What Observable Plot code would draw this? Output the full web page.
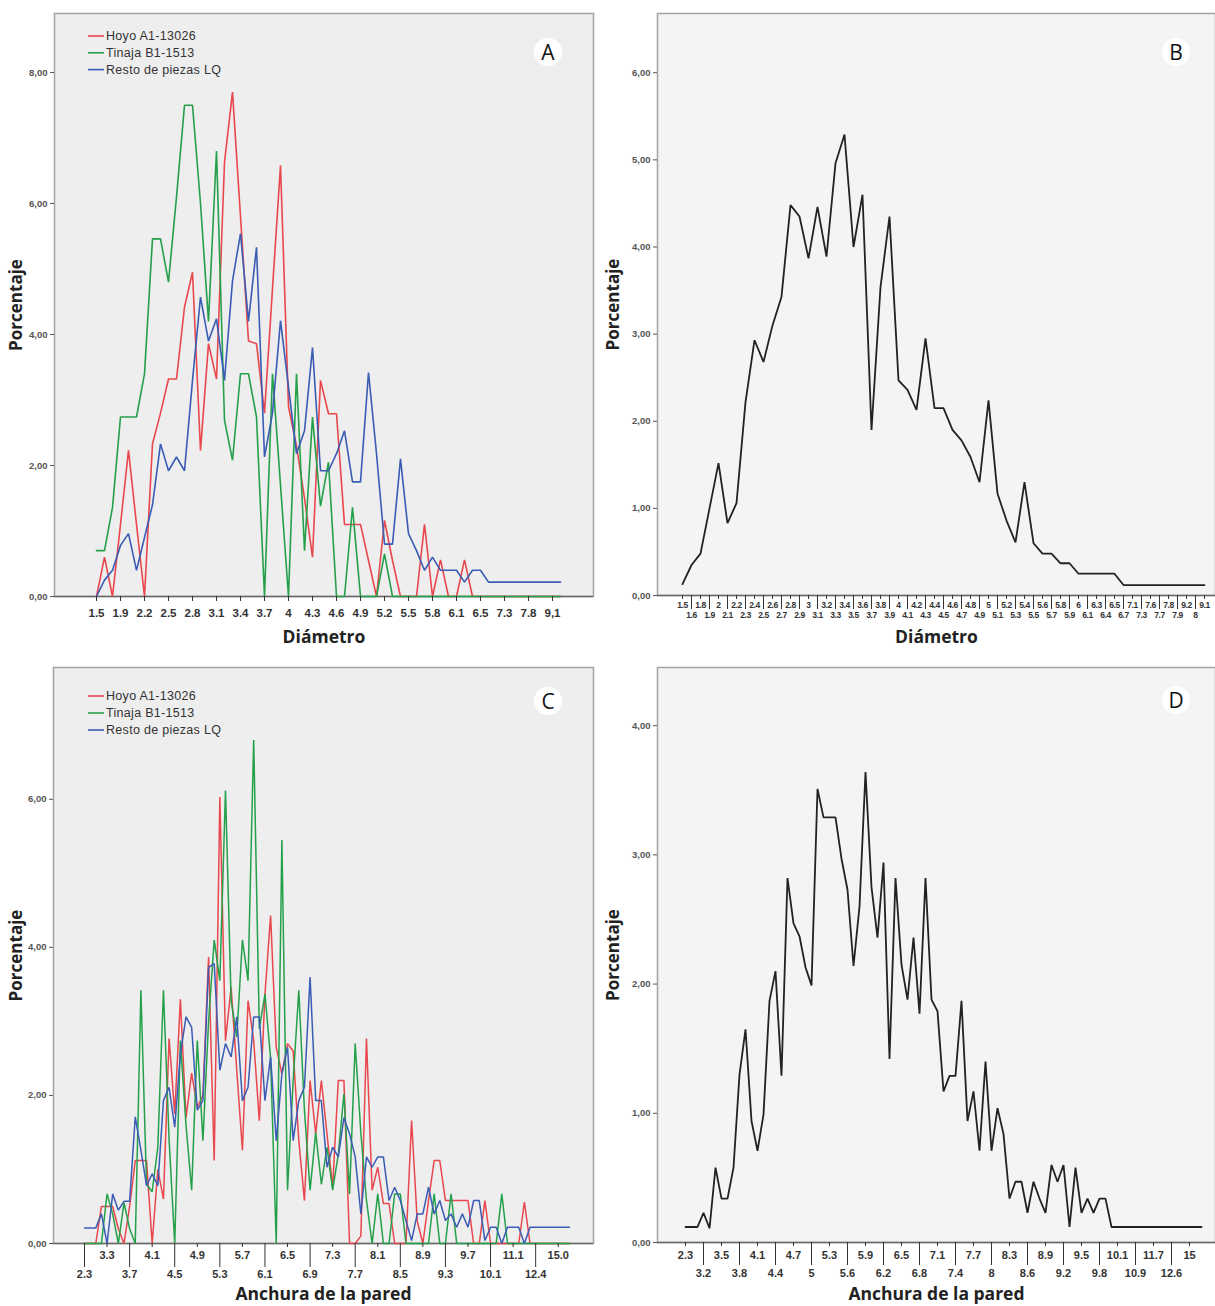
<!DOCTYPE html>
<html><head><meta charset="utf-8">
<script src="https://cdn.jsdelivr.net/npm/d3@7"></script>
<script src="https://cdn.jsdelivr.net/npm/@observablehq/plot@0.6"></script>
<style>
body{margin:0;background:#fff;}
#wrap{position:relative;width:1215px;height:1306px;overflow:hidden;background:#fff;}
#wrap svg{position:absolute;}
</style></head><body><div id="wrap"></div>
<script>
// ---------- Diámetro (panels A and B) ----------
const diamCats = ["1.5","1.6","1.8","1.9","2","2.1","2.2","2.3","2.4","2.5","2.6","2.7","2.8","2.9","3","3.1","3.2","3.3","3.4","3.5","3.6","3.7","3.8","3.9","4","4.1","4.2","4.3","4.4","4.5","4.6","4.7","4.8","4.9","5","5.1","5.2","5.3","5.4","5.5","5.6","5.7","5.8","5.9","6","6.1","6.3","6.4","6.5","6.7","7.1","7.3","7.6","7.7","7.8","7.9","9.2","8","9.1"];
const diamTicksA = ["1.5","1.9","2.2","2.5","2.8","3.1","3.4","3.7","4","4.3","4.6","4.9","5.2","5.5","5.8","6.1","6.5","7.3","7.8","9,1"];
const hoyoDiam = [0,0.6,0,1.1,2.23,1.1,0,2.33,2.8,3.32, 3.32,4.42,4.95,2.23,3.86,3.32,6.63,7.7,5.8,3.9, 3.86,2.8,4.7,6.58,2.9,2.3,1.5,0.6,3.3,2.79, 2.79,1.1,1.1,1.1,0.55,0,1.16,0.55,0,0, 0,1.1,0,0.56,0,0,0.56,0,0,0, 0,0,0,0,0,0,0,0,0];
const tinajaDiam = [0.7,0.7,1.36,2.74,2.74,2.74,3.4,5.46,5.46,4.8, 6.1,7.5,7.5,6.0,4.2,6.8,2.69,2.08,3.4,3.4, 2.74,0,3.4,1.7,0,3.4,0.7,2.74,1.38,2.05, 0,0,1.36,0,0,0,0.65,0,0,0, 0,0,0,0,0,0,0,0,0,0, 0,0,0,0,0,0,0,0,0];
const restoDiam = [0,0.25,0.4,0.78,0.96,0.4,0.9,1.4,2.33,1.92, 2.13,1.92,3.3,4.57,3.9,4.24,3.3,4.82,5.54,4.2, 5.33,2.13,2.8,4.21,3.2,2.18,2.53,3.8,1.92,1.92, 2.18,2.53,1.75,1.75,3.42,2.18,0.8,0.8,2.1,0.96, 0.7,0.4,0.6,0.4,0.4,0.4,0.22,0.4,0.4,0.22, 0.22,0.22,0.22,0.22,0.22,0.22,0.22,0.22,0.22];
const totalDiam = [0.13,0.35,0.48,1.0,1.52,0.83,1.06,2.22,2.93,2.68, 3.1,3.43,4.48,4.35,3.87,4.46,3.89,4.96,5.29,4.0, 4.6,1.9,3.54,4.35,2.47,2.36,2.13,2.95,2.15,2.15, 1.9,1.78,1.59,1.3,2.24,1.17,0.86,0.61,1.3,0.6, 0.48,0.48,0.37,0.37,0.25,0.25,0.25,0.25,0.25,0.12, 0.12,0.12,0.12,0.12,0.12,0.12,0.12,0.12,0.12];

// ---------- Anchura de la pared (panels C and D) ----------
const wallCats = ["2.3","2.6","2.9","3.2","3.3","3.4","3.5","3.6","3.7","3.8","3.9","4","4.1","4.2","4.3","4.4","4.5","4.6","4.7","4.8","4.9","5","5.1","5.2","5.3","5.4","5.5","5.6","5.7","5.8","5.9","6","6.1","6.2","6.3","6.4","6.5","6.6","6.7","6.8","6.9","7","7.1","7.2","7.3","7.4","7.5","7.6","7.7","7.8","7.9","8","8.1","8.2","8.3","8.4","8.5","8.6","8.7","8.8","8.9","9","9.1","9.2","9.3","9.4","9.5","9.6","9.7","9.8","9.9","10","10.1","10.3","10.6","10.9","11.1","11.4","11.7","12.1","12.4","12.6","13.2","14.1","15","15.6","16.3"];
const wallTicksC = ["2.3","3.3","3.7","4.1","4.5","4.9","5.3","5.7","6.1","6.5","6.9","7.3","7.7","8.1","8.5","8.9","9.3","9.7","10.1","11.1","12.4","15.0"];
const wallTicksD = ["2.3","3.2","3.5","3.8","4.1","4.4","4.7","5","5.3","5.6","5.9","6.2","6.5","6.8","7.1","7.4","7.7","8","8.3","8.6","8.9","9.2","9.5","9.8","10.1","10.9","11.7","12.6","15"];
const hoyoWall = [0,0,0,0.5,0.5,0.5,0.2,0,0.5,1.12, 1.12,1.12,0,1.0,0.6,2.77,1.75,3.3,1.7,2.3, 1.84,2.0,3.87,1.12,6.03,2.74,3.46,2.34,1.26,3.28, 2.74,1.66,3.37,4.43,2.65,2.29,2.7,2.6,1.39,0.58, 2.2,1.48,2.2,1.48,0.76,2.2,2.2,0,0,0.1, 2.77,0.72,1.03,0.54,0.54,0,0,0,1.66,0.3, 0,0.58,1.12,1.12,0.58,0.58,0.58,0.58,0.58,0, 0,0.58,0,0,0,0,0,0,0.56,0, 0,0,0,0,0,0,0];
const tinajaWall = [0,0,0,0,0.67,0.4,0,0.55,0.2,0, 3.42,0.8,0.7,1.3,3.42,1.4,0,2.74,1.6,0.72, 2.74,1.39,3.0,4.1,3.55,6.12,3.28,2.79,4.1,3.55, 6.8,2.9,3.37,2.5,0,5.45,0.72,2.2,3.42,1.8, 0.72,1.5,0.8,1.3,0.72,1.2,2.02,0.67,2.7,1.5, 0.58,0,0.67,0,0,0.67,0.67,0,0,0, 0,0,0.67,0,0,0.67,0,0,0,0, 0,0,0,0,0.67,0,0,0,0,0, 0,0,0,0,0,0,0];
const restoWall = [0.21,0.21,0.21,0.4,0,0.67,0.45,0.57,0.57,1.71, 1.26,0.78,0.94,0.78,1.93,2.11,1.57,2.56,3.06,2.92, 1.8,1.93,3.73,3.78,2.34,2.7,2.52,3.06,1.93,2.11, 3.06,3.06,1.93,2.52,1.39,2.29,2.65,1.39,1.93,2.11, 3.6,1.93,1.93,1.03,1.3,1.17,1.7,1.48,1.17,0.4, 1.17,1.03,1.17,1.17,0.58,0.76,0.58,0.31,0.04,0.4, 0.4,0.76,0.4,0.58,0.31,0.4,0.22,0.4,0.22,0.58, 0.58,0.04,0.22,0.22,0,0.22,0.22,0.22,0,0.22, 0.22,0.22,0.22,0.22,0.22,0.22,0.22];
const totalWall = [0.12,0.12,0.12,0.23,0.11,0.58,0.34,0.34,0.58,1.3, 1.65,0.94,0.71,0.99,1.87,2.1,1.29,2.82,2.47,2.37, 2.13,1.99,3.51,3.29,3.29,3.29,2.97,2.73,2.14,2.6, 3.64,2.75,2.36,2.94,1.42,2.82,2.15,1.88,2.36,1.77, 2.82,1.88,1.79,1.17,1.29,1.29,1.87,0.94,1.17,0.71, 1.4,0.71,1.04,0.84,0.34,0.47,0.47,0.23,0.47,0.34, 0.23,0.6,0.47,0.6,0.12,0.58,0.23,0.34,0.23,0.34, 0.34,0.12,0.12,0.12,0.12,0.12,0.12,0.12,0.12,0.12, 0.12,0.12,0.12,0.12,0.12,0.12,0.12];

const seriesNames = ["Hoyo A1-13026","Tinaja B1-1513","Resto de piezas LQ"];
const seriesColors = ["#e8474d","#25a04a","#3b5cb4"];
const totalColor = "#222222";

const TICKFONT = "'Liberation Sans', Arial, sans-serif";
const TITLEFONT = "'Open Sans', 'DejaVu Sans', sans-serif";
const yFmt = d => d.toFixed(2).replace(".", ",");

function makePanel(cfg) {
  const lines = cfg.series.map((vals, s) =>
    Plot.line(vals.map((v, i) => ({x: cfg.cats[i], y: v})),
      {x: "x", y: "y", stroke: cfg.colors[s], strokeWidth: cfg.sw, strokeLinejoin: "miter"}));
  const svg = Plot.plot({
    width: cfg.width, height: cfg.height,
    marginTop: cfg.m[0], marginRight: cfg.m[1], marginBottom: cfg.m[2], marginLeft: cfg.m[3],
    style: {fontFamily: TICKFONT, background: "transparent", overflow: "visible"},
    x: {type: "point", domain: cfg.cats, padding: 0, insetLeft: cfg.inset[0], insetRight: cfg.inset[1]},
    y: {domain: [0, cfg.yMax]},
    marks: [
      Plot.frame({fill: cfg.bg, stroke: "#a2a2a2", strokeWidth: 1.5}),
      Plot.ruleY([0], {stroke: "#6a6a6a", strokeWidth: 1.5}),
      ...lines,
      Plot.axisY({ticks: cfg.yTicks, tickSize: 4, tickPadding: 3, tickFormat: yFmt, fontSize: 9.5, fontWeight: "bold", color: "#555", label: null}),
      ...cfg.xAxes.map(a => Plot.axisX({ticks: a.ticks, tickSize: a.size, tickPadding: a.pad, tickFormat: a.fmt,
        fontSize: a.fs, fontWeight: "bold", color: "#333", label: null})),
      Plot.text([cfg.xTitle], {frameAnchor: "bottom", textAnchor: "middle", lineAnchor: "middle", dy: cfg.xTitleDy,
        fontSize: 17.5, fontWeight: "bold", fontFamily: TITLEFONT, fill: "#222"}),
      Plot.text(["Porcentaje"], {frameAnchor: "left", textAnchor: "middle", lineAnchor: "middle", rotate: -90, dx: -cfg.yTitleDx,
        fontSize: 17, fontWeight: "bold", fontFamily: TITLEFONT, fill: "#222"})
    ]
  });
  svg.style.left = cfg.left + "px";
  svg.style.top = cfg.top + "px";
  const s = d3.select(svg);
  if (cfg.legend) {
    const [x0, y0, dy] = cfg.legend;
    seriesNames.forEach((nm, k) => {
      s.append("line").attr("x1", x0).attr("x2", x0 + 16).attr("y1", y0 + k * dy).attr("y2", y0 + k * dy)
        .attr("stroke", seriesColors[k]).attr("stroke-width", 1.6);
      s.append("text").attr("x", x0 + 18).attr("y", y0 + k * dy).attr("dy", "0.35em").attr("text-anchor", "start")
        .text(nm).attr("font-size", 12.5).attr("letter-spacing", "0.3px").attr("font-family", TICKFONT).attr("fill", "#333");
    });
  }
  const [bx, by, letter] = cfg.badge;
  s.append("circle").attr("cx", bx).attr("cy", by).attr("r", 14).attr("fill", "#fff");
  s.append("text").attr("x", bx).attr("y", by).attr("dy", "0.36em").attr("text-anchor", "middle")
    .attr("font-size", 21).attr("font-family", TITLEFONT).attr("fill", "#111").text(letter);
  if (cfg.tickLetterSpacing) s.selectAll("[aria-label='x-axis tick label'] text").style("letter-spacing", cfg.tickLetterSpacing);
  document.getElementById("wrap").appendChild(svg);
}

const evenOdd = (cats, step, off) => cats.filter((_, i) => i % step === off);

// Panel A
makePanel({
  cats: diamCats, series: [hoyoDiam, tinajaDiam, restoDiam], colors: seriesColors, sw: 1.6,
  width: 600, height: 655, m: [13, 7, 59, 54], inset: [32, 24], left: 0, top: 0,
  bg: "#eeeeee", yMax: 8.9, yTicks: [0, 2, 4, 6, 8],
  xAxes: [{ticks: evenOdd(diamCats, 3, 0), size: 5, pad: 7, fs: 11.5, fmt: d => diamTicksA[diamCats.indexOf(d) / 3]}],
  xTitle: "Diámetro", xTitleDy: 41, yTitleDx: 38,
  legend: [88, 36, 16.8], badge: [548, 52, "A"]
});
// Panel B
makePanel({
  cats: diamCats, series: [totalDiam], colors: [totalColor], sw: 1.8,
  width: 615, height: 655, m: [13, 0, 60, 57], inset: [19, 6], left: 600, top: 0,
  bg: "#f4f4f4", yMax: 6.68, yTicks: [0, 1, 2, 3, 4, 5, 6],
  xAxes: [
    {ticks: evenOdd(diamCats, 2, 0), size: 4, pad: 2, fs: 8.5, fmt: d => d},
    {ticks: evenOdd(diamCats, 2, 1), size: 14, pad: 2, fs: 8.5, fmt: d => d}
  ],
  tickLetterSpacing: "-0.4px",
  xTitle: "Diámetro", xTitleDy: 42, yTitleDx: 44, badge: [576, 52, "B"]
});
// Panel C
makePanel({
  cats: wallCats, series: [hoyoWall, tinajaWall, restoWall], colors: seriesColors, sw: 1.5,
  width: 600, height: 651, m: [12, 7, 63, 53], inset: [31, 24], left: 0, top: 655,
  bg: "#eeeeee", yMax: 7.78, yTicks: [0, 2, 4, 6],
  xAxes: [
    {ticks: wallCats.filter((_, i) => i % 8 === 4), size: 4, pad: 4, fs: 11, fmt: d => wallTicksC[wallCats.indexOf(d) / 4]},
    {ticks: wallCats.filter((_, i) => i % 8 === 0), size: 24, pad: 3, fs: 11, fmt: d => wallTicksC[wallCats.indexOf(d) / 4]}
  ],
  xTitle: "Anchura de la pared", xTitleDy: 51, yTitleDx: 37,
  legend: [88, 41, 17], badge: [548, 46, "C"]
});
// Panel D
makePanel({
  cats: wallCats, series: [totalWall], colors: [totalColor], sw: 1.8,
  width: 615, height: 651, m: [12, 0, 64, 57], inset: [27, 13], left: 600, top: 655,
  bg: "#f4f4f4", yMax: 4.45, yTicks: [0, 1, 2, 3, 4],
  xAxes: [
    {ticks: wallCats.filter((_, i) => i % 6 === 0), size: 4, pad: 5, fs: 11, fmt: d => wallTicksD[wallCats.indexOf(d) / 3]},
    {ticks: wallCats.filter((_, i) => i % 6 === 3), size: 23, pad: 4, fs: 11, fmt: d => wallTicksD[wallCats.indexOf(d) / 3]}
  ],
  xTitle: "Anchura de la pared", xTitleDy: 52, yTitleDx: 44, badge: [576, 45, "D"]
});
</script></body></html>
